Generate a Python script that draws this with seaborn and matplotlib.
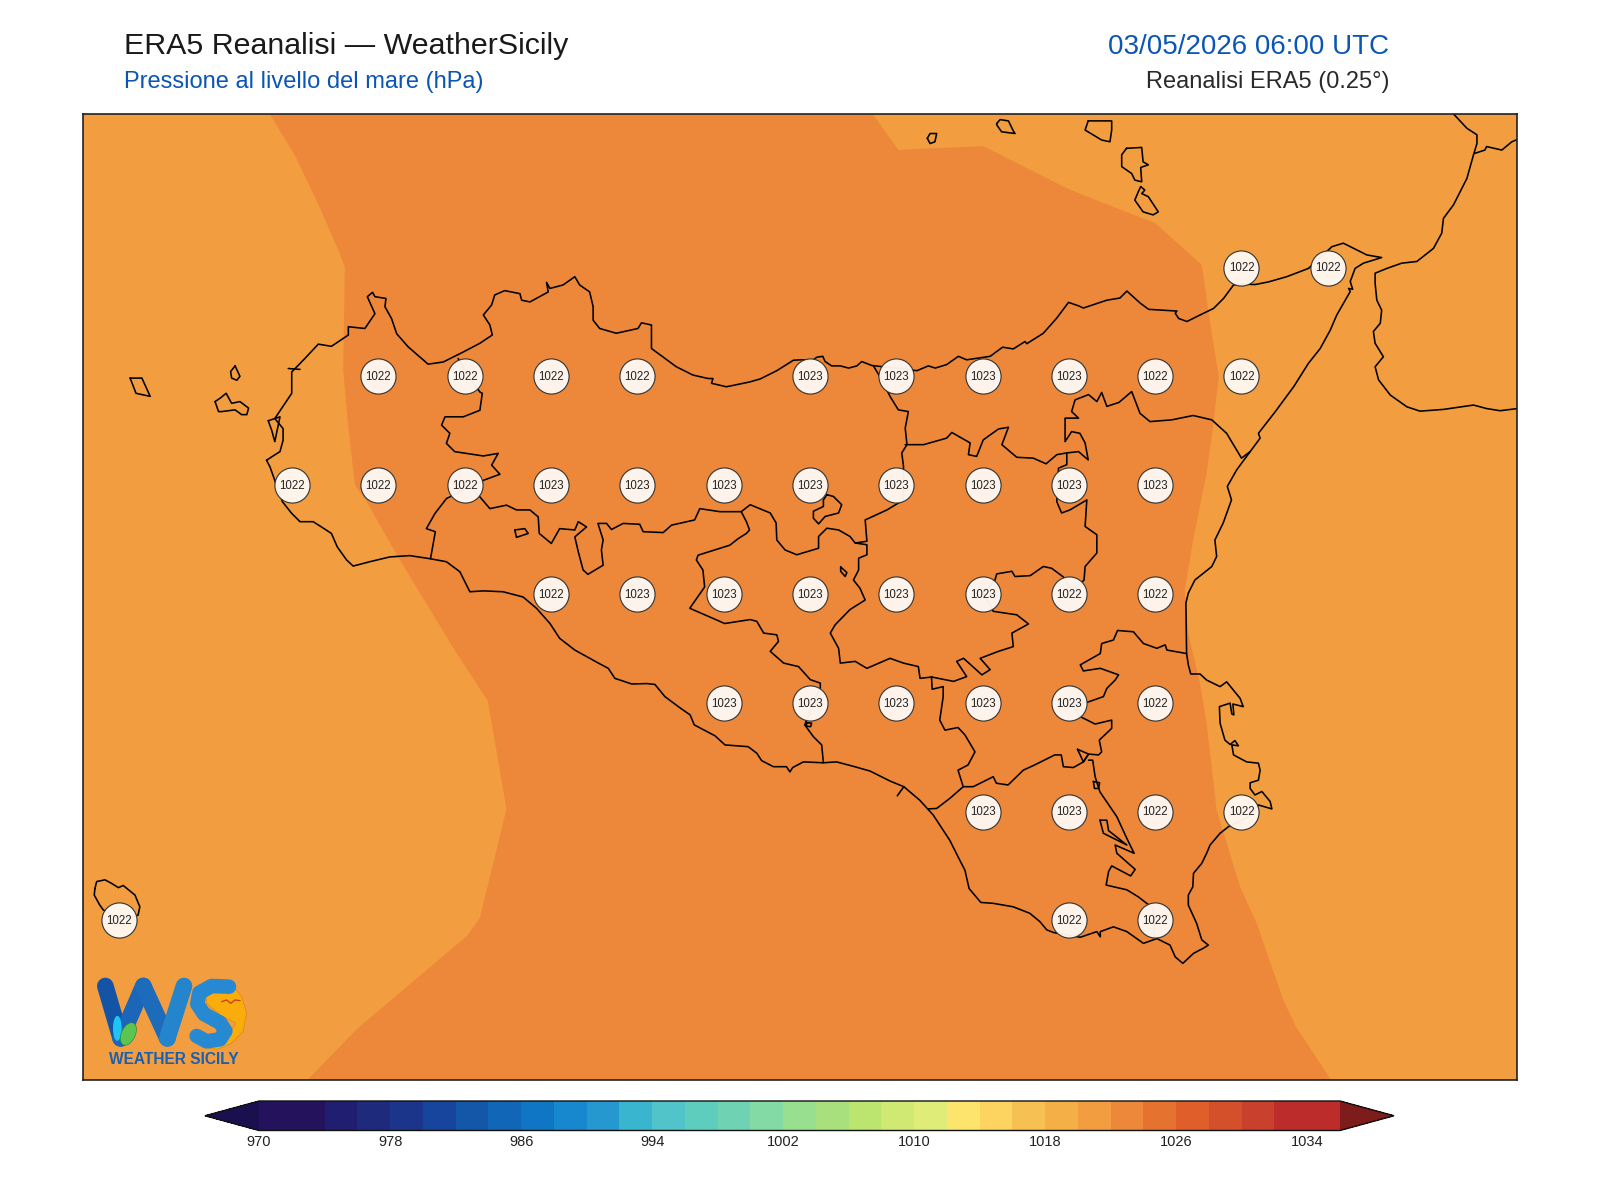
import numpy as np
import pandas as pd
import matplotlib
matplotlib.use("Agg")
import matplotlib.pyplot as plt
from matplotlib.colors import ListedColormap, BoundaryNorm
from matplotlib.cm import ScalarMappable
from matplotlib.patches import Polygon, Ellipse
import seaborn as sns

sns.set_theme(style="white")
plt.rcParams['font.family'] = ['Liberation Sans', 'DejaVu Sans']

# ---- ERA5 grid samples (every 0.5 deg on display) ----
row_lat = [38.25, 38.25,
           38.0, 38.0, 38.0, 38.0, 38.0, 38.0, 38.0, 38.0, 38.0, 38.0,
           37.75, 37.75, 37.75, 37.75, 37.75, 37.75, 37.75, 37.75, 37.75, 37.75, 37.75,
           37.5, 37.5, 37.5, 37.5, 37.5, 37.5, 37.5, 37.5,
           37.25, 37.25, 37.25, 37.25, 37.25, 37.25,
           37.0, 37.0, 37.0, 37.0,
           36.75, 36.75, 36.75]
row_lon = [15.25, 15.5,
           12.75, 13.0, 13.25, 13.5, 14.0, 14.25, 14.5, 14.75, 15.0, 15.25,
           12.5, 12.75, 13.0, 13.25, 13.5, 13.75, 14.0, 14.25, 14.5, 14.75, 15.0,
           13.25, 13.5, 13.75, 14.0, 14.25, 14.5, 14.75, 15.0,
           13.75, 14.0, 14.25, 14.5, 14.75, 15.0,
           14.5, 14.75, 15.0, 15.25,
           12.0, 14.75, 15.0]
row_hpa = [1022, 1022,
           1022, 1022, 1022, 1022, 1023, 1023, 1023, 1023, 1022, 1022,
           1022, 1022, 1022, 1023, 1023, 1023, 1023, 1023, 1023, 1023, 1023,
           1022, 1023, 1023, 1023, 1023, 1023, 1022, 1022,
           1023, 1023, 1023, 1023, 1023, 1022,
           1023, 1023, 1022, 1022,
           1022, 1022, 1022]

# ---- colour scale ----
cbar_levels = list(range(970, 1037, 2))
cbar_ticks = list(range(970, 1035, 8))
cbar_colors = ['#24125C', '#24125C', '#201E70', '#1E2A7C', '#1A358A', '#17449C', '#1456A8', '#1266B8',
               '#0F75C5', '#1888CE', '#2498CF', '#3AB5CF', '#50C4C9', '#5FCDBE', '#6FD3B3', '#83DAA5',
               '#98DF90', '#A9E07E', '#BCE56F', '#D0E973', '#E0EC78', '#FDE46C', '#FCD45F', '#F6C052',
               '#F4B047', '#F29D40', '#ED883A', '#E6722F', '#E05E29', '#D4502B', '#C9402C', '#BC2C2A', '#BC2C2A']
under_color = '#1A1050'
over_color = '#7E1C1C'
field_outside_hpa = 1021
field_band_hpa = 1023

# ---- 1022 hPa isobar enclosing the 1022-1024 band (lon, lat) ----
band_1022 = [(12.430, 38.61), (12.512, 38.502), (12.582, 38.385), (12.634, 38.29), (12.653, 38.252), (12.648, 38.014),
             (12.663, 37.884), (12.682, 37.750), (12.716, 37.712), (12.807, 37.585), (12.971, 37.371), (13.067, 37.254),
             (13.121, 37.006), (13.044, 36.755), (13.008, 36.715), (12.689, 36.501), (12.541, 36.38),
             (15.512, 36.38), (15.408, 36.505), (15.371, 36.567), (15.294, 36.743), (15.246, 36.827), (15.178, 37.003),
             (15.149, 37.203), (15.130, 37.294), (15.096, 37.409), (15.086, 37.509), (15.110, 37.624), (15.149, 37.778),
             (15.164, 37.862), (15.184, 37.999), (15.155, 38.145), (15.135, 38.256), (15.000, 38.352), (14.841, 38.401),
             (14.744, 38.432), (14.502, 38.529), (14.290, 38.522), (14.256, 38.520), (14.176, 38.61)]

# ---- coasts (lon, lat) ----
sicily = [(12.426, 37.807), (12.436, 37.792), (12.472, 37.712), (12.499, 37.685), (12.523, 37.666), (12.561, 37.666),
          (12.585, 37.654), (12.614, 37.639), (12.631, 37.608), (12.658, 37.578), (12.677, 37.564), (12.725, 37.574),
          (12.783, 37.585), (12.841, 37.588), (12.899, 37.581), (12.947, 37.574), (12.986, 37.551), (13.015, 37.505),
          (13.054, 37.507), (13.111, 37.505), (13.169, 37.493), (13.208, 37.467), (13.247, 37.432), (13.275, 37.398),
          (13.319, 37.371), (13.392, 37.339), (13.416, 37.329), (13.435, 37.306), (13.484, 37.293), (13.527, 37.294),
          (13.551, 37.292), (13.580, 37.264), (13.624, 37.238), (13.653, 37.222), (13.665, 37.199), (13.725, 37.174),
          (13.754, 37.153), (13.821, 37.149), (13.846, 37.134), (13.860, 37.117), (13.894, 37.103), (13.932, 37.103),
          (13.942, 37.091), (13.950, 37.101), (13.981, 37.114), (14.039, 37.112), (14.077, 37.114), (14.125, 37.104),
          (14.174, 37.093), (14.232, 37.070), (14.272, 37.057), (14.318, 37.026), (14.357, 36.992), (14.405, 36.934),
          (14.429, 36.896), (14.449, 36.865), (14.461, 36.823), (14.495, 36.791), (14.531, 36.789), (14.589, 36.781),
          (14.637, 36.766), (14.666, 36.747), (14.686, 36.728), (14.705, 36.722), (14.783, 36.711), (14.831, 36.724),
          (14.841, 36.712), (14.841, 36.724), (14.879, 36.735), (14.918, 36.724), (14.966, 36.697), (15.005, 36.708),
          (15.043, 36.693), (15.058, 36.666), (15.080, 36.651), (15.111, 36.674), (15.140, 36.686), (15.154, 36.693),
          (15.135, 36.705), (15.120, 36.743), (15.096, 36.785), (15.096, 36.808), (15.109, 36.827), (15.111, 36.858),
          (15.135, 36.881), (15.149, 36.904), (15.159, 36.923), (15.188, 36.950), (15.212, 36.965), (15.270, 36.988),
          (15.299, 37.015), (15.338, 37.006), (15.333, 37.023), (15.309, 37.046), (15.289, 37.038), (15.275, 37.053),
          (15.275, 37.066), (15.299, 37.072), (15.304, 37.095), (15.299, 37.111), (15.265, 37.114), (15.227, 37.130),
          (15.222, 37.153), (15.241, 37.151), (15.231, 37.163), (15.217, 37.154), (15.202, 37.164), (15.188, 37.203),
          (15.186, 37.241), (15.217, 37.249), (15.222, 37.224), (15.228, 37.222), (15.225, 37.247), (15.255, 37.241),
          (15.246, 37.260), (15.207, 37.298), (15.188, 37.287), (15.149, 37.302), (15.130, 37.316), (15.103, 37.316),
          (15.096, 37.337), (15.091, 37.363), (15.089, 37.479), (15.096, 37.502), (15.115, 37.532), (15.164, 37.563),
          (15.178, 37.586), (15.173, 37.624), (15.197, 37.663), (15.221, 37.716), (15.209, 37.747), (15.236, 37.785),
          (15.275, 37.827), (15.304, 37.858), (15.299, 37.869), (15.348, 37.919), (15.401, 37.976), (15.444, 38.030),
          (15.478, 38.064), (15.507, 38.106), (15.526, 38.141), (15.565, 38.195), (15.560, 38.202), (15.572, 38.200),
          (15.565, 38.218), (15.579, 38.248), (15.603, 38.260), (15.656, 38.273), (15.613, 38.279), (15.545, 38.306),
          (15.512, 38.298), (15.444, 38.248), (15.381, 38.229), (15.328, 38.217), (15.290, 38.211), (15.246, 38.212),
          (15.227, 38.210), (15.198, 38.179), (15.169, 38.156), (15.130, 38.141), (15.092, 38.126), (15.068, 38.133),
          (15.058, 38.145), (15.063, 38.150), (14.981, 38.154), (14.957, 38.168), (14.918, 38.196), (14.898, 38.180),
          (14.860, 38.175), (14.792, 38.157), (14.778, 38.162), (14.749, 38.170), (14.715, 38.134), (14.676, 38.099),
          (14.628, 38.075), (14.623, 38.080), (14.589, 38.063), (14.558, 38.067), (14.522, 38.046), (14.454, 38.038),
          (14.430, 38.046), (14.396, 38.027), (14.363, 38.019), (14.343, 38.024), (14.310, 38.013), (14.179, 38.025),
          (14.150, 38.034), (14.136, 38.024), (14.112, 38.019), (14.088, 38.024), (14.063, 38.024), (14.044, 38.034),
          (14.037, 38.046), (14.020, 38.044), (14.010, 38.038), (13.972, 38.038), (13.952, 38.037), (13.904, 38.013),
          (13.856, 37.994), (13.825, 37.987), (13.758, 37.976), (13.715, 37.984), (13.719, 37.995), (13.705, 37.995),
          (13.661, 38.003), (13.613, 38.022), (13.541, 38.064), (13.541, 38.079), (13.541, 38.118), (13.512, 38.123),
          (13.502, 38.110), (13.439, 38.099), (13.391, 38.110), (13.372, 38.129), (13.372, 38.160), (13.362, 38.194),
          (13.333, 38.210), (13.319, 38.229), (13.285, 38.210), (13.247, 38.202), (13.237, 38.216), (13.242, 38.194),
          (13.189, 38.171), (13.165, 38.175), (13.160, 38.190), (13.116, 38.197), (13.087, 38.187), (13.078, 38.164),
          (13.054, 38.141), (13.073, 38.118), (13.080, 38.095), (13.044, 38.076), (12.996, 38.056), (12.938, 38.033),
          (12.894, 38.028), (12.875, 38.041), (12.836, 38.068), (12.803, 38.098), (12.788, 38.133), (12.769, 38.160),
          (12.772, 38.179), (12.740, 38.183), (12.733, 38.193), (12.718, 38.183), (12.740, 38.144), (12.711, 38.110),
          (12.663, 38.114), (12.663, 38.095), (12.614, 38.069), (12.576, 38.074), (12.537, 38.041), (12.499, 38.010),
          (12.499, 37.961), (12.450, 37.903), (12.474, 37.880), (12.474, 37.853), (12.465, 37.827), (12.441, 37.815),
          (12.426, 37.807)]

calabria_coast = [(15.864, 38.62), (15.864, 38.603), (15.903, 38.570), (15.932, 38.555), (15.932, 38.535), (15.922, 38.509),
                  (15.903, 38.455), (15.864, 38.394), (15.835, 38.363), (15.830, 38.329), (15.806, 38.294),
                  (15.758, 38.264), (15.714, 38.260), (15.671, 38.248), (15.637, 38.237), (15.637, 38.214),
                  (15.642, 38.175), (15.656, 38.152), (15.652, 38.122), (15.632, 38.103), (15.637, 38.076),
                  (15.661, 38.045), (15.637, 38.022), (15.647, 37.992), (15.681, 37.957), (15.729, 37.930),
                  (15.767, 37.920), (15.835, 37.924), (15.922, 37.934), (15.960, 37.926), (15.999, 37.921),
                  (16.06, 37.927)]
calabria_north = [(15.924, 38.512), (15.955, 38.520), (15.960, 38.528), (16.004, 38.520), (16.033, 38.539), (16.06, 38.548)]

# ---- islands (lon, lat), closed on drawing ----
pantelleria = [(11.929, 36.823), (11.934, 36.839), (11.958, 36.843), (11.977, 36.835), (11.997, 36.825), (12.011, 36.830),
               (12.045, 36.808), (12.059, 36.781), (12.054, 36.762), (12.004, 36.751), (11.953, 36.774), (11.943, 36.785),
               (11.927, 36.808)]
marettimo = [(12.031, 37.996), (12.065, 37.996), (12.089, 37.954), (12.048, 37.961)]
favignana = [(12.277, 37.942), (12.292, 37.950), (12.309, 37.961), (12.325, 37.938), (12.349, 37.942), (12.374, 37.927),
             (12.369, 37.912), (12.354, 37.912), (12.335, 37.923), (12.296, 37.919), (12.287, 37.919)]
levanzo = [(12.335, 38.024), (12.349, 38.000), (12.340, 37.991), (12.325, 37.996), (12.322, 38.011)]
stagnone = [(12.431, 37.898), (12.465, 37.907), (12.450, 37.850), (12.441, 37.876)]
alicudi = [(14.340, 38.547), (14.348, 38.558), (14.367, 38.558), (14.362, 38.539), (14.348, 38.535)]
filicudi = [(14.541, 38.581), (14.551, 38.590), (14.575, 38.587), (14.589, 38.564), (14.594, 38.558), (14.555, 38.562), (14.541, 38.578)]
salina = [(14.806, 38.587), (14.874, 38.587), (14.874, 38.566), (14.869, 38.539), (14.845, 38.543), (14.797, 38.566)]
lipari = [(14.917, 38.524), (14.961, 38.526), (14.965, 38.493), (14.980, 38.486), (14.958, 38.480), (14.961, 38.447),
          (14.941, 38.451), (14.932, 38.466), (14.903, 38.482), (14.903, 38.509)]
vulcano = [(14.958, 38.436), (14.970, 38.428), (14.961, 38.420), (14.980, 38.413), (15.009, 38.378), (14.994, 38.371),
           (14.965, 38.378), (14.941, 38.405), (14.951, 38.424)]
# small inland outlines
enclave_madonie = [(14.049, 37.728), (14.068, 37.724), (14.092, 37.705), (14.083, 37.686), (14.044, 37.678), (14.025, 37.661),
                   (14.010, 37.674), (14.010, 37.690), (14.039, 37.701), (14.039, 37.716)]
enclave_belice = [(13.145, 37.647), (13.174, 37.650), (13.184, 37.639), (13.150, 37.630)]
lake_pergusa = [(14.089, 37.562), (14.107, 37.549), (14.102, 37.540), (14.089, 37.552)]
pond_vendicari = [(14.840, 36.980), (14.860, 36.980), (14.865, 36.956), (14.918, 36.923), (14.850, 36.950)]
pond_ragusa = [(14.821, 37.069), (14.839, 37.066), (14.836, 37.053), (14.824, 37.053)]
pond_caltagirone = [(14.775, 37.143), (14.807, 37.132), (14.792, 37.114)]
loop_licata = [(13.990, 37.204), (14.005, 37.203), (14.002, 37.195), (13.990, 37.196)]

# ---- province borders (lon, lat) ----
border_tp_pa = [(12.981, 38.041), (13.005, 38.007), (13.044, 37.964), (13.051, 37.961), (13.044, 37.922), (12.996, 37.907),
                (12.943, 37.907), (12.933, 37.888), (12.957, 37.869), (12.947, 37.846), (12.971, 37.827), (13.054, 37.817),
                (13.097, 37.823), (13.078, 37.796), (13.102, 37.775), (13.054, 37.761), (13.015, 37.746), (12.947, 37.719),
                (12.914, 37.685), (12.889, 37.650), (12.915, 37.643), (12.901, 37.581)]
border_pa_ag = [(13.015, 37.746), (13.044, 37.723), (13.073, 37.696), (13.121, 37.704), (13.150, 37.693), (13.189, 37.693),
                (13.213, 37.677), (13.216, 37.639), (13.251, 37.616), (13.275, 37.650), (13.319, 37.647), (13.329, 37.666),
                (13.353, 37.654), (13.319, 37.631), (13.329, 37.597), (13.343, 37.555), (13.357, 37.545), (13.401, 37.566),
                (13.396, 37.601), (13.401, 37.624), (13.386, 37.662), (13.411, 37.662), (13.425, 37.648), (13.459, 37.662),
                (13.507, 37.660), (13.517, 37.643), (13.575, 37.641), (13.599, 37.658), (13.666, 37.670), (13.681, 37.696),
                (13.739, 37.689), (13.801, 37.689), (13.827, 37.705), (13.885, 37.686), (13.902, 37.663), (13.904, 37.624),
                (13.928, 37.601), (13.962, 37.590), (14.025, 37.605), (14.025, 37.632), (14.049, 37.651), (14.083, 37.647),
                (14.116, 37.632), (14.131, 37.617), (14.165, 37.621), (14.160, 37.670), (14.223, 37.693), (14.271, 37.716),
                (14.271, 37.793), (14.266, 37.824), (14.281, 37.843), (14.276, 37.881), (14.285, 37.919), (14.256, 37.923),
                (14.232, 37.954), (14.208, 37.992), (14.184, 38.024)]
border_ag_cl = [(13.801, 37.689), (13.816, 37.666), (13.825, 37.647), (13.816, 37.639), (13.792, 37.627), (13.768, 37.612),
                (13.676, 37.589), (13.671, 37.578), (13.690, 37.555), (13.695, 37.516), (13.652, 37.467), (13.710, 37.447),
                (13.753, 37.432), (13.827, 37.441), (13.846, 37.437), (13.866, 37.410), (13.904, 37.406), (13.909, 37.391),
                (13.885, 37.368), (13.924, 37.341), (13.967, 37.333), (14.001, 37.303), (14.030, 37.295), (14.030, 37.284),
                (14.010, 37.249), (13.985, 37.199), (14.010, 37.172), (14.034, 37.153), (14.039, 37.112)]
border_cl_en = [(14.131, 37.617), (14.165, 37.613), (14.165, 37.590), (14.141, 37.582), (14.141, 37.555), (14.126, 37.532),
                (14.145, 37.513), (14.160, 37.486), (14.116, 37.464), (14.073, 37.429), (14.059, 37.410), (14.083, 37.375),
                (14.088, 37.341), (14.131, 37.345), (14.165, 37.329), (14.232, 37.352), (14.271, 37.341), (14.314, 37.333),
                (14.319, 37.306), (14.353, 37.309), (14.416, 37.299), (14.454, 37.310), (14.425, 37.345), (14.445, 37.352),
                (14.498, 37.314), (14.522, 37.326), (14.493, 37.352), (14.546, 37.368), (14.589, 37.379), (14.585, 37.410),
                (14.633, 37.431), (14.599, 37.452), (14.531, 37.460), (14.502, 37.502), (14.536, 37.532), (14.541, 37.546),
                (14.585, 37.552), (14.594, 37.540), (14.638, 37.542), (14.676, 37.563), (14.700, 37.559), (14.734, 37.539),
                (14.760, 37.505), (14.794, 37.532), (14.797, 37.563), (14.831, 37.594), (14.831, 37.636), (14.797, 37.655),
                (14.802, 37.716), (14.753, 37.693), (14.729, 37.686), (14.715, 37.712), (14.720, 37.789), (14.744, 37.797),
                (14.744, 37.824)]
border_en_me = [(14.276, 37.843), (14.329, 37.843), (14.396, 37.858), (14.411, 37.871), (14.464, 37.847), (14.459, 37.820),
                (14.483, 37.816), (14.502, 37.854), (14.546, 37.879), (14.575, 37.883), (14.556, 37.843), (14.599, 37.814),
                (14.647, 37.812), (14.684, 37.799), (14.715, 37.820), (14.744, 37.824), (14.778, 37.827), (14.806, 37.808),
                (14.797, 37.847), (14.782, 37.869), (14.758, 37.873), (14.739, 37.850), (14.739, 37.904), (14.778, 37.904),
                (14.758, 37.919), (14.768, 37.946), (14.807, 37.958), (14.831, 37.942), (14.845, 37.963), (14.860, 37.931),
                (14.895, 37.940), (14.932, 37.965), (14.956, 37.915), (14.985, 37.896), (15.048, 37.900), (15.110, 37.910),
                (15.164, 37.900), (15.207, 37.869), (15.250, 37.812), (15.275, 37.827)]
border_ct_sr = [(15.091, 37.363), (15.034, 37.371), (15.029, 37.383), (15.005, 37.375), (14.966, 37.386), (14.937, 37.413),
                (14.891, 37.416), (14.879, 37.394), (14.845, 37.386), (14.841, 37.363), (14.783, 37.337), (14.792, 37.323),
                (14.841, 37.329), (14.894, 37.314), (14.884, 37.302), (14.860, 37.283), (14.850, 37.264), (14.807, 37.252),
                (14.760, 37.245), (14.783, 37.218), (14.826, 37.201), (14.874, 37.210), (14.874, 37.191), (14.838, 37.164),
                (14.845, 37.137), (14.836, 37.130), (14.807, 37.132), (14.792, 37.114), (14.763, 37.101), (14.734, 37.103),
                (14.728, 37.130), (14.709, 37.130), (14.651, 37.107), (14.618, 37.095), (14.574, 37.061), (14.540, 37.065),
                (14.531, 37.080), (14.473, 37.057), (14.444, 37.057), (14.405, 37.030), (14.367, 37.007), (14.343, 37.006)]
border_cl_ct = [(14.444, 37.057), (14.429, 37.095), (14.458, 37.107), (14.478, 37.137), (14.449, 37.176), (14.429, 37.193),
                (14.391, 37.187), (14.376, 37.210), (14.386, 37.264), (14.386, 37.287), (14.354, 37.281), (14.352, 37.310)]
border_rg_sr = [(14.807, 37.118), (14.819, 37.118), (14.826, 37.080), (14.840, 37.045), (14.889, 36.988), (14.918, 36.938),
                (14.939, 36.904), (14.884, 36.923), (14.889, 36.904), (14.942, 36.867), (14.929, 36.852), (14.874, 36.875),
                (14.865, 36.862), (14.858, 36.831), (14.918, 36.820), (14.951, 36.804), (14.995, 36.777), (14.997, 36.711)]
spur_gela = [(14.272, 37.057), (14.253, 37.036)]
spur_trapani = [(12.489, 38.018), (12.523, 38.016)]

open_lines = [sicily, calabria_coast, calabria_north,
              border_tp_pa, border_pa_ag, border_ag_cl, border_cl_en, border_en_me,
              border_ct_sr, border_cl_ct, border_rg_sr, spur_gela, spur_trapani]
closed_lines = [pantelleria, marettimo, favignana, levanzo, stagnone, alicudi, filicudi, salina, lipari, vulcano,
                enclave_madonie, enclave_belice, lake_pergusa, pond_vendicari, pond_ragusa, pond_caltagirone, loop_licata]

lon_limits = (11.893, 16.048)
lat_limits = (36.383, 38.604)

W, H = 1600, 1200
fig = plt.figure(figsize=(W / 100, H / 100), dpi=100, facecolor='white')
ax = fig.add_axes([82.5 / W, 1 - 1080 / H, (1517 - 82.5) / W, (1080 - 113.5) / H])

cmap = ListedColormap(cbar_colors)
cmap.set_under(under_color)
cmap.set_over(over_color)
norm = BoundaryNorm(cbar_levels, cmap.N)

ax.set_facecolor(cmap(norm(field_outside_hpa)))
ax.add_patch(Polygon(band_1022, closed=True, facecolor=cmap(norm(field_band_hpa)), edgecolor='none', zorder=1))

for line in open_lines:
    xs, ys = zip(*line)
    ax.plot(xs, ys, color='black', lw=1.15, solid_joinstyle='round', zorder=2)
for line in closed_lines:
    xs, ys = zip(*(line + line[:1]))
    ax.plot(xs, ys, color='black', lw=1.15, solid_joinstyle='round', zorder=2)

df = pd.DataFrame({'lon': row_lon, 'lat': row_lat, 'hpa': row_hpa})
sns.scatterplot(data=df, x='lon', y='lat', s=640, color='#FFF8F2', alpha=0.96,
                edgecolor='#333333', linewidth=0.85, legend=False, ax=ax, zorder=3)
for _, r in df.iterrows():
    ax.text(r.lon, r.lat - 0.002, f"{int(r.hpa)}", ha='center', va='center', fontsize=8.3,
            color='#222222', zorder=4)

ax.set_xlim(lon_limits)
ax.set_ylim(lat_limits)
ax.set_xlabel('')
ax.set_ylabel('')
ax.set_xticks([])
ax.set_yticks([])
for s in ax.spines.values():
    s.set_visible(True)
    s.set_color('#222222')
    s.set_linewidth(1.2)

# titles
fig.text(124 / W, 1 - 46.5 / H, 'ERA5 Reanalisi \u2014 WeatherSicily', fontsize=21.9, color='#1a1a1a', ha='left', va='center')
fig.text(124 / W, 1 - 82 / H, 'Pressione al livello del mare (hPa)', fontsize=17, color='#0B55B5', ha='left', va='center')
fig.text(1389 / W, 1 - 46.5 / H, '03/05/2026 06:00 UTC', fontsize=20, color='#0B55B5', ha='right', va='center')
fig.text(1389 / W, 1 - 82 / H, 'Reanalisi ERA5 (0.25\u00b0)', fontsize=17, color='#2a2a2a', ha='right', va='center')

# colour bar (axes span includes the two 5% end triangles)
cax = fig.add_axes([205 / W, 1 - 1130.5 / H, (1394 - 205) / W, 29.5 / H])
cb = fig.colorbar(ScalarMappable(norm=norm, cmap=cmap), cax=cax, orientation='horizontal',
                  extend='both', extendfrac=0.05, spacing='proportional', ticks=cbar_ticks, drawedges=False)
cb.ax.set_xticklabels([str(t) for t in cbar_ticks])
cb.ax.tick_params(length=0, pad=3, labelsize=10.5, labelcolor='#222222')
cb.ax.minorticks_off()
cb.outline.set_edgecolor('#111111')
cb.outline.set_linewidth(1.0)

# logo (drawn in its own small axes)
lax = fig.add_axes([80 / W, 1 - 1080 / H, 200 / W, 120 / H])
lax.set_xlim(0, 600)
lax.set_ylim(360, 0)
lax.axis('off')
lax.patch.set_alpha(0)
sun = [(380, 100), (455, 72), (485, 110), (500, 160), (489, 215), (452, 252), (410, 268), (385, 264), (440, 232), (468, 190),
       (420, 165), (380, 130)]
lax.add_patch(Polygon(sun, closed=True, facecolor='#F9AC0B', edgecolor='#D98A10', lw=0.5, zorder=1))
strokes = [([76, 122], [78, 235], '#1454A6'), ([122, 190], [235, 78], '#1B66B8'),
           ([190, 262], [78, 235], '#1C6CBB'), ([262, 312], [235, 78], '#2484CC')]
for xs, ys, c in strokes:
    lax.plot(xs, ys, color=c, lw=12, solid_capstyle='round', zorder=2)
sx = [447, 395, 358, 352, 372, 420, 436, 420, 380, 350]
sy = [80, 78, 98, 132, 162, 188, 213, 238, 244, 228]
lax.plot(sx, sy, color='#2689D2', lw=10.5, solid_capstyle='round', solid_joinstyle='round', zorder=2)
lax.add_patch(Ellipse((112, 205), 26, 75, angle=0, facecolor='#1FC5F2', edgecolor='none', zorder=3))
lax.add_patch(Ellipse((145, 222), 42, 72, angle=25, facecolor='#5CC552', edgecolor='#2D7A3A', lw=0.4, zorder=4))
lax.plot([425, 440, 452, 465, 480], [125, 120, 130, 120, 122], color='#C8451A', lw=1.0, zorder=4)
lax.text(280, 298, 'WEATHER SICILY', fontsize=11.2, fontweight='bold', color='#1A5FB0', ha='center', va='center')

fig.savefig('out.png', dpi=100)
